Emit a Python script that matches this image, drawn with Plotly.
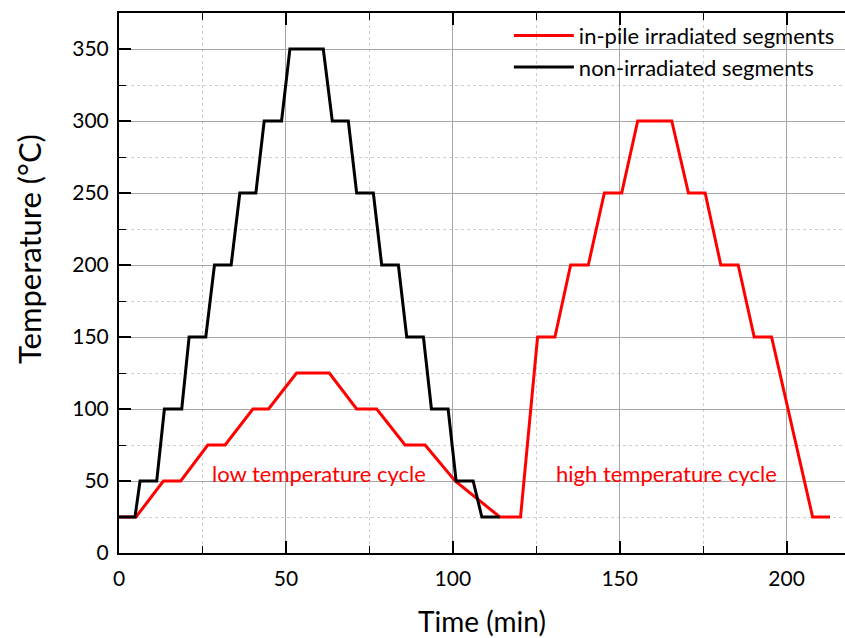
import plotly.graph_objects as go

# In-pile irradiated segments (red): time (min), temperature (°C)
red_time = [0, 5.1, 13.3, 18.5, 26.6, 31.8, 40.1, 44.8, 53.2, 63.0, 71.2, 77.2, 85.7, 91.7,
            100.7, 114.1, 120.3, 125.4, 130.6, 135.3, 140.6, 145.4, 150.6, 155.4, 165.6,
            170.6, 175.6, 180.3, 185.5, 190.3, 195.5, 207.8, 213.0]
red_temp = [25, 25, 50, 50, 75, 75, 100, 100, 125, 125, 100, 100, 75, 75,
            50, 25, 25, 150, 150, 200, 200, 250, 250, 300, 300,
            250, 250, 200, 200, 150, 150, 25, 25]

# Non-irradiated segments (black)
black_time = [0, 4.8, 6.3, 11.3, 13.6, 18.8, 21.0, 26.0, 28.6, 33.6, 36.2, 41.0, 43.5, 48.7,
              51.2, 61.2, 63.9, 68.7, 71.2, 76.2, 78.7, 83.7, 86.2, 91.2, 93.6, 98.6,
              101.0, 106.1, 108.7, 114.1]
black_temp = [25, 25, 50, 50, 100, 100, 150, 150, 200, 200, 250, 250, 300, 300,
              350, 350, 300, 300, 250, 250, 200, 200, 150, 150, 100, 100,
              50, 50, 25, 25]

series_names = ["in-pile irradiated segments", "non-irradiated segments"]
cycle_labels = ["low temperature cycle", "high temperature cycle"]
y_title = "Temperature (°C)"
x_title = "Time (min)"

FONT = "Lato"

fig = go.Figure()
fig.add_trace(go.Scatter(x=red_time, y=red_temp, mode="lines", name=series_names[0],
                         line=dict(color="#ff0000", width=3)))
fig.add_trace(go.Scatter(x=black_time, y=black_temp, mode="lines", name=series_names[1],
                         line=dict(color="#000000", width=3)))

fig.add_annotation(x=59.9, y=55.3, xref="x", yref="y", text=cycle_labels[0], showarrow=False,
                   font=dict(family=FONT, size=22, color="#ff0000"))
fig.add_annotation(x=164.1, y=55.3, xref="x", yref="y", text=cycle_labels[1], showarrow=False,
                   font=dict(family=FONT, size=22, color="#ff0000"))

# y-axis title (placed slightly above plot centre, as in the reference)
fig.add_annotation(x=-0.124, y=0.563, xref="paper", yref="paper", text=y_title,
                   textangle=-90, showarrow=False, xanchor="center", yanchor="middle",
                   font=dict(family=FONT, size=31, color="black"))

axis_common = dict(
    showline=True, linecolor="black", linewidth=2,
    ticks="inside", ticklen=12, tickwidth=2, tickcolor="black",
    showgrid=True, gridcolor="#a6a6a6", gridwidth=1,
    zeroline=False,
    tickfont=dict(family=FONT, size=21, color="black"),
)

fig.update_xaxes(
    range=[0, 217.5], tick0=0, dtick=50, mirror="ticks",
    minor=dict(dtick=25, ticks="inside", ticklen=7, tickwidth=1, tickcolor="black",
               showgrid=True, gridcolor="#cfcfcf", griddash="dot", gridwidth=1),
    title=dict(text=x_title, font=dict(family=FONT, size=28, color="black"), standoff=28),
    ticklabelstandoff=6,
    **axis_common,
)
fig.update_yaxes(
    range=[0, 375], tick0=0, dtick=50, mirror=False,
    minor=dict(dtick=25, ticks="inside", ticklen=7, tickwidth=1, tickcolor="black",
               showgrid=True, gridcolor="#cfcfcf", griddash="dot", gridwidth=1),
    ticklabelstandoff=4,
    **axis_common,
)

fig.update_layout(
    width=845, height=638,
    margin=dict(l=119, r=0, t=13, b=85),
    plot_bgcolor="white", paper_bgcolor="white",
    showlegend=True,
    legend=dict(x=0.537, y=0.997, xanchor="left", yanchor="top",
                bgcolor="rgba(0,0,0,0)", borderwidth=0,
                font=dict(family=FONT, size=22, color="black"),
                itemwidth=60, tracegroupgap=0),
)

fig.write_html("out.html")
